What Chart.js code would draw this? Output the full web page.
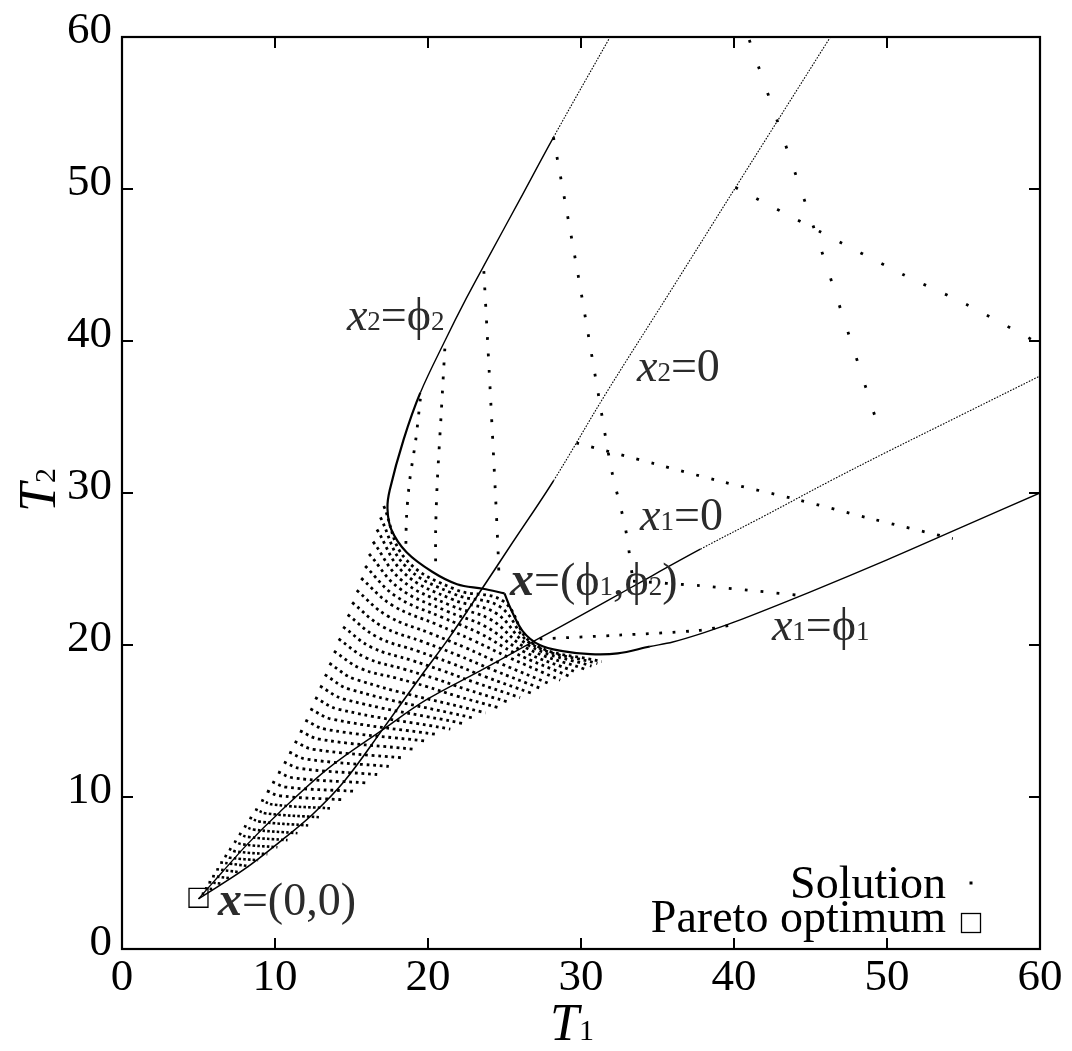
<!DOCTYPE html>
<html>
<head>
<meta charset="utf-8">
<script src="https://cdn.jsdelivr.net/npm/chart.js@4.4.1/dist/chart.umd.min.js"></script>
<style>
html, body { margin: 0; padding: 0; background: #fff; }
canvas { display: block; }
</style>
</head>
<body>
<canvas id="paretoChart" width="1072" height="1051"></canvas>
<script>
// ---------------------------------------------------------------
// values (T1, T2)
// ---------------------------------------------------------------
var xTicks = [0, 10, 20, 30, 40, 50, 60];
var yTicks = [0, 10, 20, 30, 40, 50, 60];

// solid boundary curves
var x2Phi2 = [[25.0,23.4],[23.6,23.7],[21.9,24.0],[20.3,24.8],[18.6,26.1],[17.6,27.6],[17.35,29.0],[17.5,30.2],[18.4,33.5],[19.5,36.6],[21.1,40.0],[22.5,42.8],[24.0,45.6],[26.0,49.3],[28.2,53.4],[31.9,60.0]];
var x1Phi1 = [[25.0,23.4],[25.4,22.4],[26.2,20.9],[27.3,20.0],[28.8,19.6],[30.6,19.4],[32.4,19.45],[34.5,19.9],[36.0,20.2],[38.0,20.8],[40.0,21.5],[45.0,23.5],[50.0,25.6],[55.0,27.8],[60.0,30.0]];
var x2Zero = [[5.0,3.3],[8.0,5.25],[10.5,7.2],[12.5,8.9],[14.5,11.0],[17.0,14.4],[19.5,17.9],[21.4,20.5],[23.4,23.5],[25.5,26.7],[28.2,30.8],[31.6,36.5],[35.8,43.2],[40.1,50.1],[46.3,60.0]];
var x1Zero = [[5.0,3.3],[6.5,5.0],[8.2,6.9],[10.3,9.0],[13.5,11.9],[17.0,14.4],[19.9,16.4],[23.4,18.3],[27.1,20.35],[30.0,21.95],[33.3,23.8],[37.8,26.3],[42.0,28.5],[46.3,30.8],[50.0,32.7],[55.0,35.2],[60.0,37.7]];

// sparse dotted solution lines outside the feasible square
var colA = [[19.5,36.2],[19.2,33.5],[18.8,30.8],[18.6,28.5],[18.55,26.4]];
var colB = [[21.1,39.5],[20.85,35.0],[20.6,30.6],[20.5,27.5],[20.5,24.9]];
var colC = [[23.65,44.6],[24.0,38.0],[24.4,30.1],[24.6,25.7],[24.65,24.0]];
var colD = [[28.2,53.4],[29.8,44.4],[31.1,36.7],[32.0,31.5],[32.9,27.7],[33.4,24.2]];
var colE = [[41.0,59.8],[43.3,53.1],[45.6,46.3],[47.8,39.5],[49.45,34.3]];
var rowR1 = [[33.4,24.2],[37.8,23.9],[41.0,23.6],[44.4,23.25]];
var rowR2 = [[27.3,20.4],[32.5,20.65],[37.6,20.95],[39.8,21.3]];
var rowR3 = [[29.7,33.3],[34.9,31.9],[39.0,30.8],[44.0,29.6],[49.0,28.3],[54.3,27.0]];
var rowR4 = [[40.1,50.1],[45.6,47.2],[51.0,44.4],[55.2,42.4],[60.0,39.8]];

// dense fan of solutions, one dotted arc per list (left edge -> lower edge)
var fanArcs = [
  [[5.21,3.65],[5.49,3.62]],
  [[5.42,4.0],[5.98,3.93]],
  [[5.65,4.4],[6.53,4.29]],
  [[5.89,4.8],[7.07,4.65]],
  [[6.16,5.25],[7.69,5.05]],
  [[6.42,5.7],[8.30,5.45]],
  [[6.70,6.15],[7.08,6.00],[8.90,5.84]],
  [[6.99,6.6],[7.43,6.42],[9.50,6.24]],
  [[7.32,7.1],[7.81,6.90],[10.16,6.69]],
  [[7.64,7.6],[8.19,7.38],[10.82,7.16]],
  [[7.97,8.1],[8.58,7.86],[11.47,7.62]],
  [[8.33,8.65],[9.00,8.38],[12.17,8.13]],
  [[8.70,9.2],[9.43,8.92],[12.87,8.67]],
  [[9.10,9.8],[9.89,9.50],[13.63,9.25]],
  [[9.47,10.4],[10.33,10.08],[14.37,9.82]],
  [[9.82,11.0],[10.74,10.65],[15.11,10.38]],
  [[10.20,11.65],[11.19,11.26],[15.90,10.93]],
  [[10.58,12.3],[11.64,11.88],[16.68,11.48]],
  [[10.93,12.95],[12.06,12.49],[17.44,12.01]],
  [[11.28,13.65],[12.49,13.14],[18.25,12.58]],
  [[11.63,14.35],[12.91,13.80],[19.05,13.14]],
  [[11.98,15.05],[13.33,14.45],[19.83,13.68]],
  [[12.31,15.8],[13.73,15.12],[20.65,14.10]],
  [[12.62,16.55],[14.12,15.78],[21.46,14.47]],
  [[12.94,17.3],[14.51,16.44],[22.25,14.84]],
  [[13.25,18.05],[14.88,17.09],[23.01,15.18]],
  [[13.55,18.8],[15.24,17.75],[23.76,15.53]],
  [[13.85,19.6],[15.61,18.45],[18.02,17.80],[19.87,17.28],[21.81,16.66],[24.54,15.89]],
  [[14.15,20.4],[15.97,19.15],[18.48,18.40],[20.42,17.80],[22.45,17.10],[25.29,16.23]],
  [[14.45,21.2],[16.32,19.84],[18.94,18.99],[20.95,18.31],[23.06,17.54],[26.02,16.54]],
  [[14.75,22.0],[16.67,20.53],[19.38,19.58],[21.47,18.82],[23.65,17.95],[26.72,16.84]],
  [[15.04,22.8],[17.01,21.22],[19.81,20.16],[21.97,19.32],[24.22,18.37],[27.39,17.13]],
  [[15.34,23.6],[17.34,21.92],[20.23,20.74],[22.45,19.82],[24.77,18.77],[28.03,17.41]],
  [[15.63,24.4],[17.67,22.61],[20.63,21.33],[22.92,20.32],[25.29,19.18],[28.64,17.69]],
  [[15.89,25.2],[17.91,23.20],[20.95,21.81],[23.34,20.79],[25.72,19.45],[29.22,17.95]],
  [[16.15,26.0],[18.11,23.74],[21.22,22.23],[23.72,21.24],[26.07,19.66],[29.75,18.19]],
  [[16.41,26.8],[18.28,24.26],[21.44,22.62],[24.09,21.68],[26.37,19.83],[30.24,18.41]],
  [[16.66,27.6],[18.41,24.76],[21.62,22.99],[24.42,22.11],[26.61,19.96],[30.69,18.61]],
  [[16.89,28.4],[18.47,25.25],[21.74,23.34],[24.70,22.52],[26.77,20.06],[31.07,18.78]],
  [[17.11,29.15],[18.51,25.69],[21.81,23.65],[24.92,22.88],[26.82,20.11],[31.35,18.9]]
];

var paretoPoint = [[5.0, 3.37]];

// ---------------------------------------------------------------
var SERIF = '"Liberation Serif", "Times New Roman", "DejaVu Serif", serif';

function toXY(pts) {
    return pts.map(function (p) { return { x: p[0], y: p[1] }; });
}

// dotted line: square dots of size d every "period" pixels
function dottedSet(pts, period, d) {
    d = d || 2.8;
    return {
        data: toXY(pts),
        showLine: true,
        borderColor: '#000',
        borderWidth: d,
        borderDash: [d, period - d],
        borderCapStyle: 'butt',
        pointRadius: 0,
        tension: 0.3,
        fill: false
    };
}

// curve with a heavier part followed by a lighter / dotted tail
function curveSet(pts, heavyUntil, heavyWidth, midUntil, midWidth) {
    return {
        data: toXY(pts),
        showLine: true,
        borderColor: '#000',
        borderWidth: heavyWidth,
        pointRadius: 0,
        tension: 0.35,
        fill: false,
        segment: {
            borderWidth: function (c) {
                if (c.p0DataIndex < heavyUntil) return heavyWidth;
                if (c.p0DataIndex < midUntil) return midWidth;
                return 1.1;
            },
            borderDash: function (c) {
                return c.p0DataIndex < midUntil ? undefined : [1.6, 1.4];
            }
        }
    };
}

var datasets = [];

fanArcs.forEach(function (arc, i) {
    var ds = i < 14 ? dottedSet(arc, 4.8, 2.6) : dottedSet(arc, 6.6, 2.8);
    ds.tension = 0.4;
    datasets.push(ds);
});

datasets.push(dottedSet(colA, 13));
datasets.push(dottedSet(colB, 14));
datasets.push(dottedSet(colC, 16.5));
datasets.push(dottedSet(colD, 20));
datasets.push(dottedSet(colE, 28));
datasets.push(dottedSet(rowR1, 16));
datasets.push(dottedSet(rowR2, 13.3));
datasets.push(dottedSet(rowR3, 15.5));
datasets.push(dottedSet(rowR4, 23.5));

datasets.push(curveSet(x2Phi2, 9, 2.2, 14, 1.4));
datasets.push(curveSet(x1Phi1, 7, 2.2, 14, 1.4));
datasets.push(curveSet(x2Zero, 10, 1.6, 10, 1.6));
datasets.push(curveSet(x1Zero, 11, 1.4, 11, 1.4));

datasets.push({
    data: toXY(paretoPoint),
    showLine: false,
    pointStyle: 'rect',
    pointRadius: 13.4,
    pointBorderWidth: 1.3,
    pointBorderColor: '#000',
    pointBackgroundColor: 'rgba(0,0,0,0)'
});

// text with small subscripts: parts = [text, font, dy]
function drawRich(ctx, parts, x, y, align) {
    var w = 0;
    parts.forEach(function (p) { ctx.font = p[1]; w += ctx.measureText(p[0]).width; });
    var cx = align === 'right' ? x - w : (align === 'center' ? x - w / 2 : x);
    ctx.textAlign = 'left';
    ctx.textBaseline = 'alphabetic';
    parts.forEach(function (p) {
        ctx.font = p[1];
        ctx.fillText(p[0], cx, y + (p[2] || 0));
        cx += ctx.measureText(p[0]).width;
    });
}

var frameAndText = {
    id: 'frameAndText',
    afterDatasetsDraw: function (chart) {
        var ctx = chart.ctx;
        var xs = chart.scales.x, ys = chart.scales.y;
        var a = chart.chartArea;
        ctx.save();

        // frame + inward ticks on all four sides
        ctx.strokeStyle = '#000';
        ctx.lineWidth = 2.2;
        ctx.strokeRect(a.left, a.top, a.right - a.left, a.bottom - a.top);
        ctx.lineWidth = 2;
        ctx.beginPath();
        xTicks.forEach(function (v) {
            if (v === xs.min || v === xs.max) return;
            var px = xs.getPixelForValue(v);
            ctx.moveTo(px, a.bottom); ctx.lineTo(px, a.bottom - 11);
            ctx.moveTo(px, a.top); ctx.lineTo(px, a.top + 11);
        });
        yTicks.forEach(function (v) {
            if (v === ys.min || v === ys.max) return;
            var py = ys.getPixelForValue(v);
            ctx.moveTo(a.left, py); ctx.lineTo(a.left + 11, py);
            ctx.moveTo(a.right, py); ctx.lineTo(a.right - 11, py);
        });
        ctx.stroke();

        var M = '46px ' + SERIF;
        var I = 'italic 46px ' + SERIF;
        var BI = 'bold italic 48px ' + SERIF;
        var S = '27px ' + SERIF;
        function at(t1, t2) { return [xs.getPixelForValue(t1), ys.getPixelForValue(t2)]; }

        ctx.fillStyle = '#2b2b2b';
        var p;
        p = at(14.7, 40.7);
        drawRich(ctx, [['x', I], ['2', S], ['=', M], ['\u03d5', M], ['2', S]], p[0], p[1]);
        p = at(33.66, 37.37);
        drawRich(ctx, [['x', I], ['2', S], ['=0', M]], p[0], p[1]);
        p = at(33.86, 27.55);
        drawRich(ctx, [['x', I], ['1', S], ['=0', M]], p[0], p[1]);
        p = at(25.36, 23.3);
        drawRich(ctx, [['x', BI], ['=(', M], ['\u03d5', M], ['1', S], [',', M], ['\u03d5', M], ['2', S], [')', M]], p[0], p[1]);
        p = at(42.48, 20.35);
        drawRich(ctx, [['x', I], ['1', S], ['=', M], ['\u03d5', M], ['1', S]], p[0], p[1]);
        p = at(6.27, 2.23);
        drawRich(ctx, [['x', BI], ['=(0,0)', M]], p[0], p[1]);

        // legend
        ctx.fillStyle = '#000';
        drawRich(ctx, [['Solution', M]], 946, 898, 'right');
        drawRich(ctx, [['Pareto optimum', M]], 946, 932, 'right');
        ctx.fillRect(969.5, 881.5, 3, 3);
        ctx.lineWidth = 1.3;
        ctx.strokeRect(961.5, 913.5, 19, 19);

        // axis titles
        var TI = 'italic 52px ' + SERIF;
        var TS = '30px ' + SERIF;
        drawRich(ctx, [['T', TI], ['1', TS]], 572, 1040, 'center');
        ctx.translate(55, 490);
        ctx.rotate(-Math.PI / 2);
        drawRich(ctx, [['T', TI], ['2', TS]], 0, 0, 'center');

        ctx.restore();
    }
};

new Chart(document.getElementById('paretoChart').getContext('2d'), {
    type: 'scatter',
    data: { datasets: datasets },
    options: {
        responsive: false,
        animation: false,
        devicePixelRatio: 1,
        layout: { padding: { top: 32, right: 32, left: 0, bottom: 0 } },
        plugins: {
            legend: { display: false },
            tooltip: { enabled: false }
        },
        scales: {
            x: {
                type: 'linear',
                min: 0,
                max: 60,
                afterBuildTicks: function (scale) {
                    scale.ticks = xTicks.map(function (v) { return { value: v }; });
                },
                afterFit: function (scale) { scale.height = 102; },
                grid: { display: true, drawOnChartArea: false, drawTicks: false },
                border: { display: false },
                ticks: {
                    color: '#000',
                    padding: 2,
                    maxRotation: 0,
                    font: { family: SERIF, size: 45 }
                }
            },
            y: {
                type: 'linear',
                min: 0,
                max: 60,
                afterBuildTicks: function (scale) {
                    scale.ticks = yTicks.map(function (v) { return { value: v }; });
                },
                afterFit: function (scale) { scale.width = 122; },
                grid: { display: true, drawOnChartArea: false, drawTicks: false },
                border: { display: false },
                ticks: {
                    color: '#000',
                    padding: 10,
                    labelOffset: -6,
                    font: { family: SERIF, size: 45 }
                }
            }
        }
    },
    plugins: [frameAndText]
});
</script>
</body>
</html>
